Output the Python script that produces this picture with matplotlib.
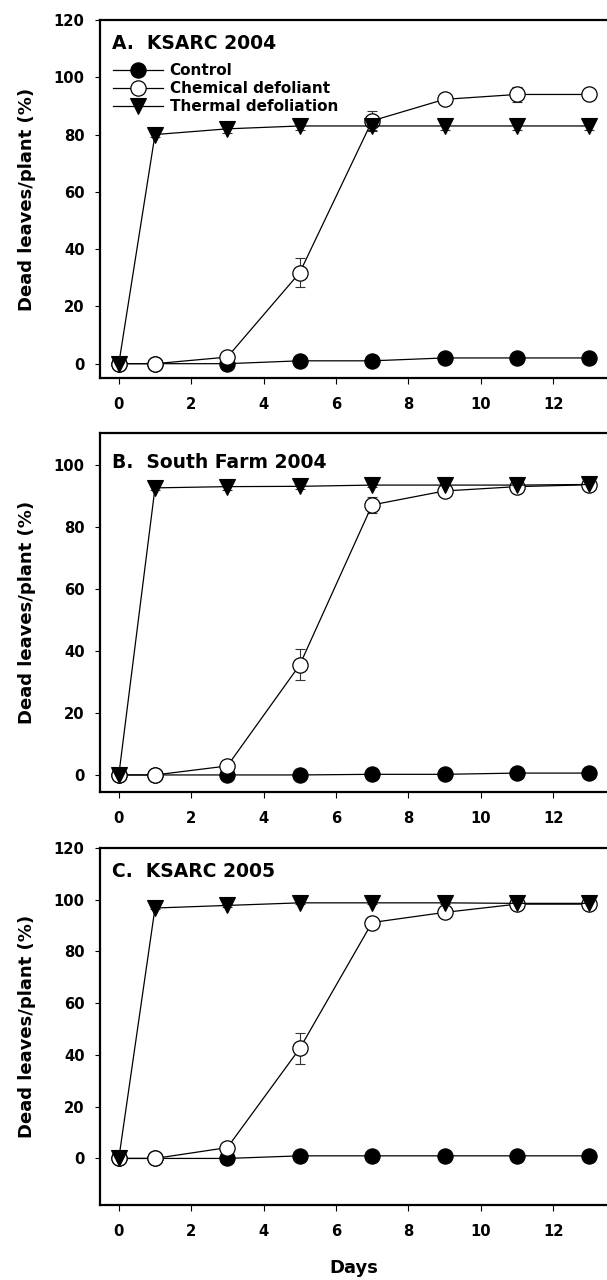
import matplotlib
matplotlib.use('Agg')
import matplotlib.pyplot as plt

plt.rcParams['font.family'] = ['DejaVu Sans']
plt.rcParams['font.weight'] = 'bold'

days = [0, 1, 3, 5, 7, 9, 11, 13]

# panel A, KSARC 2004
ctrl_a = [0, 0, 0, 1, 1, 2, 2, 2]
chem_a = [0, 0, 2.3, 31.8, 84.8, 92.3, 94, 94]
chem_a_err = [0, 0, 0.5, 5, 3.5, 1, 2.5, 0.5]
therm_a = [0, 80, 82, 83, 83, 83, 83, 83]
therm_a_err = [0, 0.8, 1.5, 1.5, 1.5, 1.5, 1.5, 1.5]

# panel B, South Farm 2004
ctrl_b = [0, 0, 0, 0, 0.2, 0.2, 0.6, 0.6]
chem_b = [0, 0, 2.9, 35.5, 87.1, 91.6, 93, 93.6]
chem_b_err = [0, 0, 0.5, 5, 2.5, 1, 1, 0.5]
therm_b = [0, 92.6, 93, 93.1, 93.5, 93.5, 93.5, 93.7]
therm_b_err = [0, 0.8, 1, 0.8, 0.5, 0.5, 0.5, 0.5]

# panel C, KSARC 2005
ctrl_c = [0, 0, 0, 1, 1, 1, 1, 1]
chem_c = [0, 0, 4.2, 42.5, 91.2, 95.1, 98.3, 98.3]
chem_c_err = [0, 0, 0.5, 6, 1, 1, 1, 0.5]
therm_c = [0, 96.8, 97.8, 98.8, 98.8, 98.8, 98.6, 98.6]
therm_c_err = [0, 0.5, 0.5, 0.5, 0.5, 0.5, 0.5, 0.5]

labels = ['Control', 'Chemical defoliant', 'Thermal defoliation']
titles = ['A.  KSARC 2004', 'B.  South Farm 2004', 'C.  KSARC 2005']
panels = [(ctrl_a, chem_a, chem_a_err, therm_a, therm_a_err),
          (ctrl_b, chem_b, chem_b_err, therm_b, therm_b_err),
          (ctrl_c, chem_c, chem_c_err, therm_c, therm_c_err)]
ylims = [(-5, 120), (-5.5, 110.3), (-18, 120)]
yticks = [range(0, 121, 20), range(0, 101, 20), range(0, 121, 20)]

W, H = 607, 1280
# (top, bottom) of each axes box in pixels
boxes = [(20, 378), (433, 792), (848, 1205)]
title_y = [0.933, 0.919, 0.933]

fig = plt.figure(figsize=(W / 100, H / 100), dpi=100)
ms = 11
for i, (ctrl, chem, chem_err, therm, therm_err) in enumerate(panels):
    top, bot = boxes[i]
    ax = fig.add_axes([100 / W, 1 - bot / H, (W - 100) / W, (bot - top) / H])
    ax.errorbar(days, chem, yerr=chem_err, fmt='none', ecolor='#333333',
                elinewidth=0.8, capsize=3.5, capthick=0.8, zorder=2)
    ax.errorbar(days, therm, yerr=therm_err, fmt='none', ecolor='#333333',
                elinewidth=0.8, capsize=3.5, capthick=0.8, zorder=2)
    ax.plot(days, ctrl, color='black', lw=0.9, marker='o', ms=ms,
            mfc='black', mec='black', mew=0.8, label=labels[0], zorder=3)
    ax.plot(days, chem, color='black', lw=0.9, marker='o', ms=ms,
            mfc='white', mec='black', mew=0.9, label=labels[1], zorder=4)
    ax.plot(days, therm, color='black', lw=0.9, marker='v', ms=ms + 1,
            mfc='black', mec='black', mew=0.8, label=labels[2], zorder=5)

    ax.set_xlim(-0.52, 13.49)
    ax.set_ylim(*ylims[i])
    ax.set_xticks(range(0, 13, 2))
    ax.set_yticks(list(yticks[i]))
    ax.spines['right'].set_visible(False)
    for s in ['left', 'top', 'bottom']:
        ax.spines[s].set_linewidth(1.6)
    ax.tick_params(axis='x', direction='out', length=4.5, width=0.8, pad=9, labelsize=10.6)
    ax.tick_params(axis='y', direction='out', length=3.6, width=0.8, pad=7.5, labelsize=10.6)
    for t in ax.get_xticklabels() + ax.get_yticklabels():
        t.set_fontweight('bold')
    ax.set_ylabel('Dead leaves/plant (%)', fontsize=13, fontweight='bold')
    ax.yaxis.set_label_coords(-0.127, 0.5)
    ax.text(0.024, title_y[i], titles[i], transform=ax.transAxes, fontsize=13.5,
            fontweight='bold', ha='left', va='center')
    if i == 0:
        ax.legend(loc='upper left', bbox_to_anchor=(0.025, 0.88), frameon=False,
                  handlelength=3.27, handletextpad=0.46,
                  labelspacing=0.2, borderpad=0, borderaxespad=0, numpoints=1,
                  prop={'weight': 'bold', 'size': 11})

fig.text((100 + (W - 100) / 2) / W, 1 - 1268 / H, 'Days', ha='center', va='center',
         fontsize=13, fontweight='bold')

fig.savefig('out.png', dpi=100)
